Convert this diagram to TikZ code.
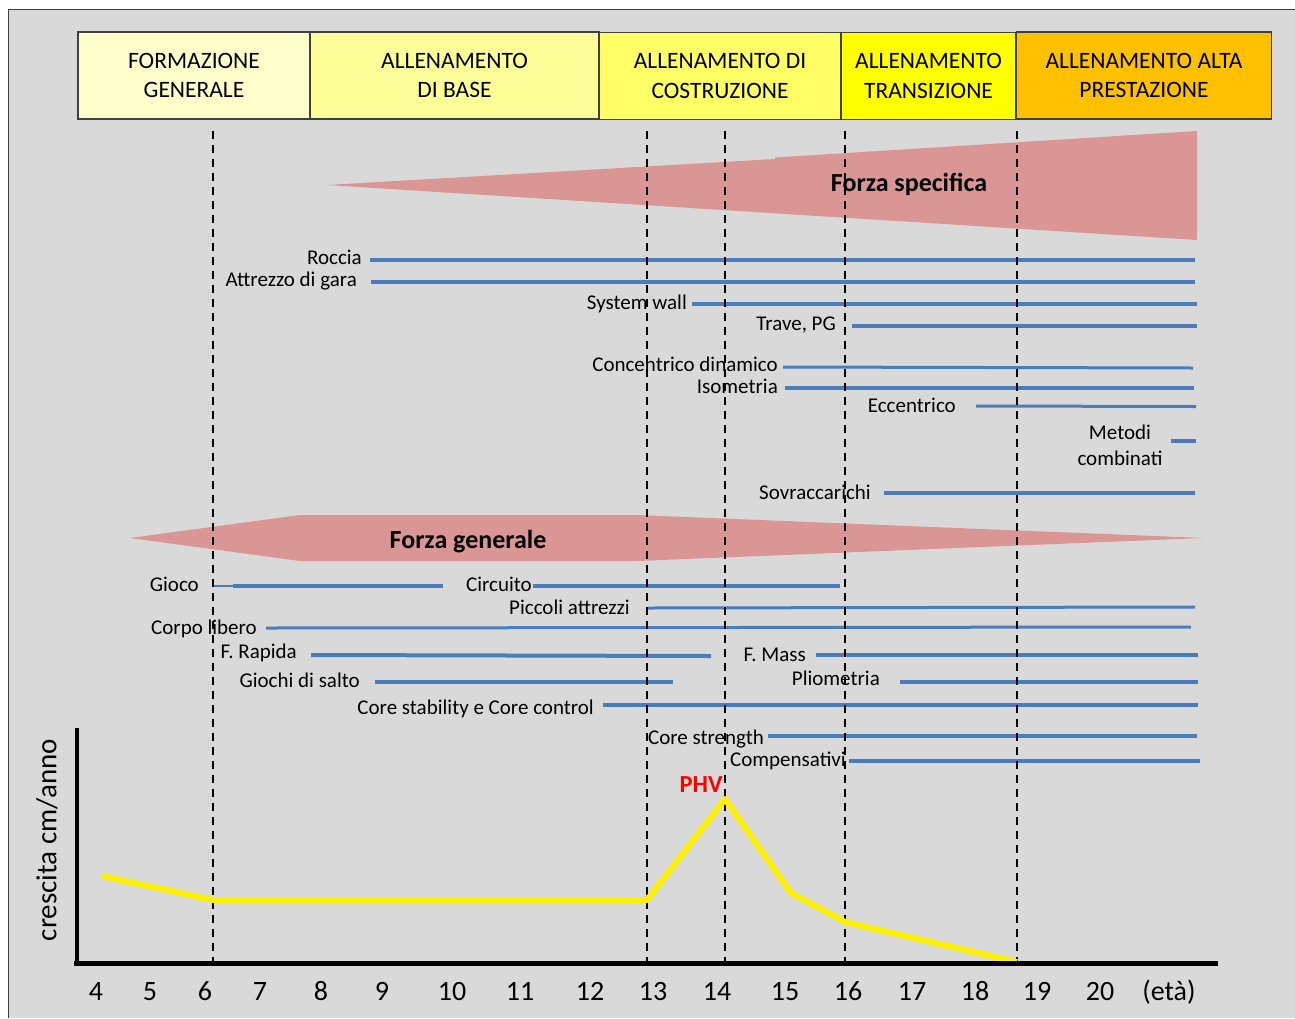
\documentclass[tikz,border=0pt]{standalone}
\usepackage{fontspec}
\setmainfont{Carlito}
\definecolor{panelgray}{HTML}{D9D9D9}
\definecolor{framegray}{HTML}{404040}
\definecolor{wedgepink}{HTML}{D99694}
\definecolor{barblue}{HTML}{4A7EBB}
\definecolor{phaseA}{HTML}{FFFFCC}
\definecolor{phaseB}{HTML}{FFFF99}
\definecolor{phaseC}{HTML}{FFFF66}
\definecolor{phaseD}{HTML}{FFFF00}
\definecolor{phaseE}{HTML}{FFC000}
\begin{document}
\begin{tikzpicture}[x=1pt,y=-1pt,
  phasebox/.style={draw=framegray, line width=1.2pt, inner sep=0pt, align=center,
    minimum height=87pt, font=\fontsize{23.5}{29}\selectfont},
  clbl/.style={font=\fontsize{21}{25}\selectfont, inner sep=0pt, text height=13.3pt, text depth=0pt},
  lbl/.style={clbl, anchor=east},
  bluebar/.style={draw=barblue, line width=4pt},
  thinbar/.style={draw=barblue, line width=3pt},
  ageline/.style={draw=black, line width=1.8pt, dash pattern=on 8pt off 6pt},
  wedgetext/.style={font=\bfseries\fontsize{26}{30}\selectfont, inner sep=0pt, text height=16.4pt, text depth=0pt},
  tick/.style={font=\fontsize{28}{32}\selectfont, inner sep=0pt, text height=17.7pt, text depth=0pt},
  growth/.style={draw=yellow, line width=6pt, line join=round},
  axis/.style={draw=black, line width=5pt}]
\useasboundingbox (0,0) rectangle (1295,1018);

% panel
\fill[panelgray] (8.5,9.5) rectangle (1295,1018);
\draw[framegray, line width=1.2pt] (8.5,1018) -- (8.5,9.5) -- (1295,9.5);

% training phases
\node[phasebox, fill=phaseA, minimum width=232pt] (ph1) at (194,75.5) {FORMAZIONE\\GENERALE};
\node[phasebox, fill=phaseB, minimum width=289pt] (ph2) at (454.5,75.5) {ALLENAMENTO\\DI BASE};
\node[phasebox, fill=phaseC, minimum width=242pt, font=\fontsize{23.5}{30}\selectfont] (ph3) at (720,76) {ALLENAMENTO DI\\COSTRUZIONE};
\node[phasebox, fill=phaseD, minimum width=175pt, font=\fontsize{23.5}{30}\selectfont] (ph4) at (928.5,76) {ALLENAMENTO\\TRANSIZIONE};
\node[phasebox, fill=phaseE, minimum width=255pt] (ph5) at (1144,75.5) {ALLENAMENTO ALTA\\PRESTAZIONE};

% specific strength wedge
\fill[wedgepink] (327,185) -- (775,159) -- (775,157.5) -- (1197,131) -- (1197,240) -- cycle;
\node[wedgetext] (fspec) at (909,183) {Forza specifica};

% general strength arrow
\fill[wedgepink] (130,538) -- (300,515) -- (637,515) -- (1203,538) -- (637,561) -- (300,561) -- cycle;
\node[wedgetext] (fgen) at (468,540) {Forza generale};

% specific strength methods
\node[lbl] (roccia) at (362,257.5) {Roccia};
\draw[bluebar] (370,260) -- (1195,260);
\node[lbl] (attrezzo) at (357,280) {Attrezzo di gara};
\draw[bluebar] (371,282) -- (1195,282);
\node[lbl] (syswall) at (687,302.5) {System wall};
\draw[bluebar] (692,304) -- (1197,304);
\node[lbl] (trave) at (836,323.5) {Trave, PG};
\draw[bluebar] (852,326) -- (1197,326);
\node[lbl] (concdin) at (778,365) {Concentrico dinamico};
\draw[thinbar] (783,367) -- (1193,368);
\node[lbl] (isom) at (778,386.5) {Isometria};
\draw[bluebar] (785,388) -- (1194,388);
\node[lbl] (eccen) at (956,406) {Eccentrico};
\draw[thinbar] (976,406) -- (1196,406.5);
\node[clbl] (metodi) at (1120,432.5) {Metodi};
\node[clbl] (combinati) at (1120,458.5) {combinati};
\draw[bluebar] (1171,441) -- (1196,441);
\node[lbl] (sovr) at (871,493) {Sovraccarichi};
\draw[bluebar] (884,493) -- (1195,493);

% general strength methods
\node[lbl] (gioco) at (199,585) {Gioco};
\draw[draw=barblue, line width=2pt] (213,586) -- (233,586);
\draw[bluebar] (233,586) -- (443,586);
\node[lbl] (circuito) at (532,585) {Circuito};
\draw[bluebar] (533,586) -- (840,586);
\node[lbl] (piccoli) at (630,607.5) {Piccoli attrezzi};
\draw[thinbar] (648,608) -- (1195,607);
\node[lbl] (corpo) at (257,627.5) {Corpo libero};
\draw[thinbar] (266,628) -- (1191,627);
\node[lbl] (frapida) at (297,652) {F. Rapida};
\draw[bluebar] (311,655) -- (711,656);
\node[lbl] (giochisalto) at (360,681) {Giochi di salto};
\draw[bluebar] (375,682) -- (673,682);
\node[lbl] (core) at (594,708) {Core stability e Core control};
\draw[bluebar] (603,705) -- (1198,705);
\node[lbl] (fmass) at (806,655) {F. Mass};
\draw[bluebar] (816,655) -- (1198,655);
\node[lbl] (plio) at (880,678.5) {Pliometria};
\draw[bluebar] (900,682) -- (1198,682);
\node[lbl] (corestr) at (764,738) {Core strength};
\draw[bluebar] (768,736) -- (1197,736);
\node[lbl] (comp) at (846,760) {Compensativi};
\draw[bluebar] (849,761) -- (1200,761);

% age boundaries
\foreach \ax in {213,647,725,845,1017}
  \draw[ageline] (\ax,131) -- (\ax,963);

% growth velocity curve
\coordinate (g4) at (102,876);
\coordinate (g6) at (213,900);
\coordinate (g13) at (647,900);
\coordinate (gpeak) at (725,799);
\coordinate (g15) at (791,893);
\coordinate (g16) at (845,922);
\coordinate (gend) at (1017,962);
\draw[growth] (g4) -- (g6) -- (g13) -- (gpeak) -- (g15) -- (g16) -- (gend);
\node[font=\bfseries\fontsize{24.5}{28}\selectfont, text=red, inner sep=0pt, text height=15.5pt, text depth=0pt] (phv) at (701,785) {PHV};

% axes
\coordinate (ytop) at (77,728);
\coordinate (ybot) at (77,965);
\coordinate (xstart) at (74,963);
\coordinate (xend) at (1218,963);
\draw[axis, line width=4pt] (ytop) -- (ybot);
\draw[axis] (xstart) -- (xend);
\node[rotate=90, font=\fontsize{29}{33}\selectfont, inner sep=0pt] (ylabel) at (47,840) {crescita cm/anno};

% ages
\foreach \tx/\tl [count=\i] in {96/4,150/5,205/6,260/7,321/8,382/9,452/10,520/11,590/12,653/13,717/14,785/15,848/16,912/17,975/18,1037/19,1100/20,1169/(età)}
  \node[tick] (age\i) at (\tx,991.5) {\tl};
\end{tikzpicture}
\end{document}
